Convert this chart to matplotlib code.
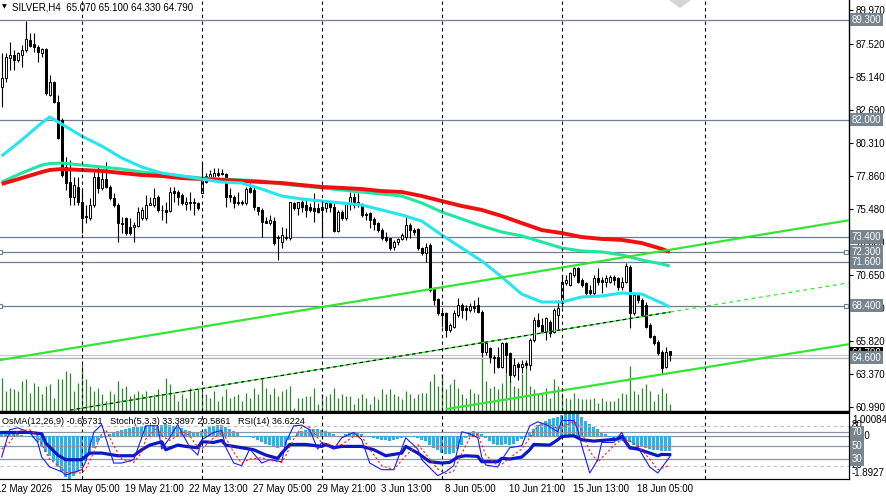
import matplotlib
matplotlib.use("Agg")
import matplotlib.pyplot as plt
import matplotlib.transforms as mtrans
from matplotlib.patches import Polygon

plt.rcParams['font.family'] = ['Liberation Sans', 'DejaVu Sans']
plt.rcParams['font.size'] = 7

# --- SILVER H4 candles (12 May 17:00 .. 19 Jun 13:00) ---
opens = [84.38, 85.03, 86.50, 86.71, 86.35, 86.71, 87.08, 87.81, 87.52, 87.30,
         86.86, 87.15, 83.79, 84.74, 83.28, 81.96, 78.53, 77.43, 76.34, 77.07,
         75.97, 74.95, 74.80, 75.75, 77.80, 76.99, 77.65, 77.07, 76.26, 75.75,
         74.43, 74.80, 74.14, 74.14, 74.22, 74.80, 74.80, 75.75, 75.75, 76.34,
         75.42, 75.39, 75.31, 76.77, 76.70, 76.48, 75.82, 75.97, 75.97, 75.90,
         76.63, 77.87, 77.80, 77.80, 78.09, 78.02, 78.02, 76.48, 76.34, 75.97,
         75.97, 75.90, 76.99, 76.85, 75.60, 75.39, 74.58, 74.43, 74.58, 73.41,
         73.05, 73.34, 73.34, 75.90, 75.53, 75.97, 75.75, 75.60, 75.53, 75.53,
         75.39, 75.53, 75.90, 75.60, 73.85, 75.24, 74.80, 75.90, 76.34, 75.75,
         75.75, 75.09, 75.17, 74.73, 74.43, 73.92, 73.41, 73.34, 72.68, 73.05,
         73.27, 73.41, 74.29, 73.92, 74.00, 72.61, 72.24, 72.83, 69.68, 68.88,
         67.85, 67.85, 66.61, 66.83, 67.71, 68.44, 68.22, 68.08, 68.37, 68.44,
         67.93, 65.01, 65.30, 64.64, 64.64, 63.91, 65.66, 64.93, 63.32, 64.13,
         63.91, 64.20, 64.05, 65.88, 67.34, 66.98, 66.47, 67.20, 66.47, 67.71,
         68.59, 70.05, 69.90, 70.63, 71.15, 70.27, 70.05, 69.54, 69.32, 70.41,
         70.27, 70.12, 70.12, 70.49, 70.41, 69.76, 70.12, 71.22, 67.85, 69.17,
         68.81, 68.44, 66.98, 66.17, 65.74, 65.01, 63.91, 65.07]
highs = [86.86, 86.86, 87.67, 87.08, 86.94, 87.45, 89.20, 88.32, 88.32, 87.45,
         87.23, 87.23, 85.25, 84.81, 83.79, 82.11, 79.26, 79.04, 77.80, 77.80,
         76.85, 75.75, 76.26, 78.17, 78.53, 78.17, 78.89, 77.21, 76.63, 75.90,
         74.87, 74.87, 74.80, 74.51, 75.60, 75.60, 76.48, 76.34, 76.99, 76.48,
         75.75, 75.97, 77.07, 77.07, 76.85, 76.63, 76.34, 76.70, 76.26, 75.97,
         78.89, 78.09, 78.31, 78.46, 78.46, 78.38, 78.09, 76.99, 76.48, 76.70,
         76.12, 77.07, 77.36, 77.07, 75.60, 75.53, 74.87, 75.02, 74.87, 73.56,
         74.14, 74.07, 75.97, 75.97, 75.97, 76.12, 76.12, 75.90, 76.63, 75.90,
         75.97, 75.97, 75.97, 75.90, 75.39, 75.39, 75.97, 76.70, 76.63, 76.63,
         75.90, 75.24, 75.24, 74.87, 74.51, 74.07, 73.78, 73.34, 73.20, 73.34,
         73.70, 74.87, 74.43, 74.07, 74.07, 72.68, 72.97, 72.97, 69.76, 68.95,
         68.08, 67.93, 67.13, 68.08, 68.95, 68.59, 68.44, 68.59, 68.81, 69.03,
         68.08, 65.74, 65.37, 64.79, 65.37, 65.74, 65.74, 65.01, 64.57, 64.27,
         64.42, 64.42, 66.03, 67.56, 67.85, 67.49, 67.56, 67.34, 68.22, 68.81,
         70.63, 70.63, 70.85, 71.22, 71.22, 70.41, 70.12, 69.90, 70.63, 71.15,
         70.49, 70.63, 70.63, 70.63, 70.49, 70.49, 71.51, 71.36, 69.32, 69.32,
         68.95, 68.66, 67.13, 66.25, 65.88, 65.15, 65.37, 65.10]
lows = [82.91, 84.74, 85.62, 85.62, 86.20, 85.84, 86.94, 87.30, 86.94, 86.20,
        86.57, 83.79, 83.71, 83.21, 80.58, 77.80, 76.85, 75.75, 75.75, 75.75,
        73.70, 74.43, 74.65, 75.60, 76.63, 76.85, 76.99, 76.12, 75.60, 73.05,
        73.70, 73.56, 73.56, 73.05, 74.14, 74.65, 74.65, 75.75, 75.60, 75.24,
        74.65, 74.43, 75.24, 75.97, 75.75, 75.75, 75.39, 75.39, 75.02, 75.39,
        76.63, 77.36, 77.58, 77.72, 77.80, 77.94, 75.60, 75.97, 75.53, 75.75,
        75.75, 75.75, 76.63, 75.39, 75.02, 73.41, 74.43, 74.29, 72.83, 71.73,
        72.61, 73.20, 73.20, 75.39, 75.02, 75.24, 74.87, 75.24, 74.51, 75.17,
        73.41, 75.24, 75.24, 73.78, 73.78, 74.65, 74.65, 75.39, 75.53, 75.60,
        74.87, 74.65, 74.07, 73.92, 73.78, 73.20, 73.05, 72.46, 72.46, 72.83,
        73.20, 73.20, 73.34, 73.56, 72.46, 72.10, 71.58, 69.39, 68.43, 67.71,
        66.83, 66.10, 66.47, 66.76, 67.56, 67.49, 67.34, 67.93, 67.93, 67.85,
        64.64, 64.79, 64.20, 63.47, 63.84, 63.84, 63.47, 62.81, 63.18, 62.96,
        63.47, 63.84, 63.69, 65.74, 66.83, 66.39, 65.88, 66.10, 66.39, 66.61,
        68.30, 69.90, 69.83, 70.49, 70.05, 69.76, 69.17, 69.03, 69.17, 69.90,
        69.32, 69.76, 70.05, 69.90, 69.54, 69.54, 70.05, 66.76, 67.71, 68.59,
        67.71, 66.76, 66.03, 65.52, 64.79, 63.47, 63.84, 64.33]
closes = [85.03, 86.57, 86.71, 86.35, 86.86, 87.08, 87.89, 87.37, 87.30, 86.94,
          87.15, 83.94, 84.74, 83.28, 80.65, 77.94, 77.36, 76.34, 77.21, 75.97,
          74.80, 74.87, 75.75, 77.80, 76.99, 77.65, 77.07, 76.26, 75.75, 74.43,
          74.36, 73.70, 73.70, 74.29, 75.24, 75.39, 75.75, 75.90, 76.26, 75.39,
          75.37, 75.24, 76.70, 76.63, 76.34, 75.90, 75.97, 75.90, 75.90, 75.53,
          77.80, 77.43, 78.02, 78.09, 77.94, 78.09, 76.34, 76.34, 75.90, 75.90,
          75.90, 76.92, 76.70, 75.60, 75.31, 74.51, 74.43, 74.65, 72.97, 73.34,
          73.56, 73.41, 75.97, 75.53, 75.97, 75.60, 75.39, 75.39, 75.31, 75.24,
          75.60, 75.90, 75.60, 73.85, 75.24, 74.80, 75.90, 76.34, 75.75, 75.97,
          75.02, 75.02, 74.65, 74.36, 73.92, 73.34, 73.20, 72.61, 73.05, 73.27,
          73.56, 74.29, 73.92, 73.78, 72.61, 72.24, 72.68, 69.54, 68.81, 67.85,
          67.71, 66.61, 66.98, 67.85, 68.44, 68.08, 68.08, 68.37, 68.22, 67.93,
          65.01, 65.66, 64.64, 64.57, 63.91, 65.66, 64.79, 63.32, 64.05, 63.91,
          64.13, 64.05, 65.88, 67.34, 66.90, 66.47, 67.49, 66.39, 68.08, 68.22,
          70.12, 70.27, 70.78, 71.15, 70.12, 69.90, 69.32, 69.32, 70.41, 70.12,
          70.12, 70.41, 70.49, 70.27, 69.76, 70.12, 71.29, 67.85, 69.17, 68.81,
          67.71, 66.83, 66.10, 65.66, 64.93, 63.84, 65.01, 64.79]
volumes = [3300, 2000, 2300, 2200, 2000, 3000, 3200, 1800, 2800, 2500,
           1700, 2500, 2700, 1300, 3200, 3200, 4000, 3800, 2000, 2800,
           4700, 3200, 2500, 2000, 2300, 1700, 1000, 2000, 1700, 3000,
           2300, 2500, 1500, 1700, 2000, 1700, 2000, 1300, 1700, 2200,
           1700, 3300, 2700, 1700, 1000, 1700, 1300, 2300, 2000, 2200,
           2200, 1700, 1300, 2000, 1000, 1500, 2200, 1300, 1500, 1700,
           1000, 1800, 1300, 2300, 1700, 3300, 2300, 1700, 2300, 1500,
           2000, 2200, 2500, 300, 1300, 1300, 1500, 1500, 2300, 700,
           1700, 1500, 1700, 2300, 1300, 1700, 1500, 1500, 700, 1300,
           1700, 1300, 700, 1500, 1200, 2200, 1700, 2200, 1700, 1500,
           1200, 2000, 1700, 1300, 1700, 1800, 1800, 3000, 3700, 2500,
           3700, 2200, 2700, 3200, 2300, 1700, 1300, 2200, 1800, 1700,
           5300, 3000, 2300, 2500, 2200, 2800, 3800, 3000, 2500, 2300,
           3700, 5000, 2500, 2200, 1700, 1700, 2300, 1300, 3200, 2500,
           1800, 1300, 1200, 1800, 1300, 1200, 1200, 1200, 1300, 800,
           1300, 1000, 1000, 1000, 1300, 1800, 1700, 4500, 2000, 1700,
           2300, 2700, 2000, 1000, 1700, 2300, 1800, 700]

# moving averages read at these bar indices
ma_idx = [0, 5, 10, 12, 15, 20, 25, 30, 35, 40, 45, 50, 55, 60, 65, 70, 75, 80,
          85, 90, 95, 100, 105, 110, 115, 120, 125, 130, 135, 140, 145, 150,
          155, 160, 165, 167]
ma_fast = [79.33, 80.50, 81.75, 82.18, 81.67, 80.79, 80.06, 79.19, 78.53, 78.09,
           77.87, 77.65, 77.43, 77.36, 76.92, 76.41, 76.19, 76.04, 75.90, 75.75,
           75.39, 75.02, 74.58, 73.56, 72.61, 71.66, 70.49, 69.24, 68.66, 68.66,
           69.03, 69.10, 69.32, 69.24, 68.59, 68.30]
ma_mid = [77.43, 78.09, 78.67, 78.78, 78.82, 78.67, 78.53, 78.38, 78.16, 78.02,
          77.87, 77.72, 77.65, 77.58, 77.51, 77.29, 77.14, 77.00, 76.85, 76.70,
          76.55, 76.41, 75.90, 75.24, 74.73, 74.22, 73.78, 73.49, 73.05, 72.61,
          72.39, 72.32, 72.10, 71.73, 71.44, 71.29]
ma_slow = [77.29, 77.72, 78.16, 78.31, 78.38, 78.31, 78.24, 78.09, 77.94, 77.87,
           77.72, 77.65, 77.58, 77.51, 77.43, 77.36, 77.21, 77.07, 77.00, 76.92,
           76.77, 76.70, 76.41, 76.04, 75.68, 75.39, 74.95, 74.43, 73.92, 73.70,
           73.41, 73.27, 73.20, 72.97, 72.54, 72.32]

# trend channel anchors (bar index, price)
chan_upper = ([-0.4, 212.1], [64.42, 74.65])
chan_mid = ([17.1, 167.1], [60.76, 67.93])
chan_mid_ext = ([167.1, 212.1], [67.93, 70.08])
chan_lower = ([111.3, 212.1], [60.84, 65.59])

levels = [89.30, 82.00, 73.40, 72.30, 71.60, 68.40]
support = 64.60
price_ticks = [89.97, 87.52, 85.14, 82.69, 80.31, 77.86, 75.48, 73.03, 70.65,
               68.20, 65.82, 63.37, 60.99]
separators = [20, 50, 80, 110, 140, 175.8]
time_labels = ['12 May 2026', '15 May 05:00', '19 May 21:00', '22 May 13:00',
               '27 May 05:00', '29 May 21:00', '3 Jun 13:00', '8 Jun 05:00',
               '10 Jun 21:00', '15 Jun 13:00', '18 Jun 05:00']
time_bars = [0, 15, 31, 47, 63, 79, 95, 111, 127, 143, 159]

# oscillators
osma = [0.08, 0.1, 0.1, 0.08, 0.05, 0.02, -0.02, -0.06, -0.1, -0.3,
        -0.45, -0.7, -0.9, -1.1, -1.35, -1.6, -1.8, -1.89, -1.75, -1.6,
        -1.4, -1.1, -0.85, -0.55, -0.3, -0.12, -0.02, 0.08, 0.15, 0.2,
        0.25, 0.3, 0.33, 0.35, 0.38, 0.4, 0.42, 0.45, 0.45, 0.43,
        0.45, 0.48, 0.45, 0.42, 0.38, 0.32, 0.25, 0.18, 0.12, 0.1,
        0.2, 0.3, 0.38, 0.42, 0.45, 0.45, 0.38, 0.3, 0.2, 0.1,
        0.0, -0.05, -0.08, -0.12, -0.18, -0.28, -0.35, -0.4, -0.5, -0.55,
        -0.5, -0.4, -0.2, 0.0, 0.12, 0.2, 0.26, 0.3, 0.3, 0.28,
        0.25, 0.2, 0.15, 0.05, 0.0, -0.02, 0.05, 0.12, 0.15, 0.12,
        0.05, 0.0, -0.05, -0.1, -0.15, -0.18, -0.2, -0.22, -0.2, -0.17,
        -0.12, -0.05, -0.03, -0.05, -0.12, -0.2, -0.25, -0.4, -0.55, -0.65,
        -0.75, -0.8, -0.82, -0.75, -0.6, -0.4, -0.1, 0.1, 0.18, 0.15,
        0.05, -0.1, -0.25, -0.35, -0.42, -0.4, -0.38, -0.4, -0.35, -0.25,
        -0.15, -0.08, 0.1, 0.3, 0.45, 0.55, 0.65, 0.72, 0.78, 0.82,
        0.9, 0.95, 0.98, 1.0, 0.92, 0.8, 0.65, 0.5, 0.38, 0.28,
        0.15, 0.05, -0.05, -0.12, -0.2, -0.25, -0.22, -0.3, -0.4, -0.45,
        -0.5, -0.55, -0.6, -0.62, -0.65, -0.67, -0.68, -0.667]
osma_max, osma_min = 1.00084, -1.8927

rsi_idx = [0, 7, 10, 11, 14, 16, 20, 22, 25, 29, 33, 35, 37, 40, 41, 44, 46, 49,
           50, 53, 55, 56, 60, 63, 66, 69, 70, 72, 76, 80, 81, 83, 85, 90, 93,
           96, 100, 101, 104, 107, 110, 112, 114, 116, 119, 120, 124, 125, 127,
           130, 132, 133, 137, 139, 140, 143, 145, 148, 150, 154, 155, 157, 159,
           162, 164, 165, 167]
rsi_vals = [70, 70, 68, 54, 36, 29, 29, 39, 39, 35, 35, 44, 51, 56, 44, 51, 49, 47,
            56, 55, 58, 51, 47, 44, 36, 31, 39, 52, 52, 49, 52, 47, 49, 49, 44,
            35, 39, 49, 39, 26, 24, 25, 33, 35, 34, 26, 26, 31, 30,
            33, 44, 52, 51, 59, 64, 65, 59, 57, 58, 60, 64, 47, 45,
            39, 35, 37, 36.6]

stoch_idx = [0, 2, 4, 7, 9, 10, 12, 15, 16, 20, 21, 23, 25, 26, 28, 30, 33, 35,
             36, 39, 40, 42, 44, 45, 47, 49, 50, 53, 55, 56, 58, 60, 62, 65, 67,
             70, 71, 73, 75, 77, 79, 80, 83, 85, 88, 90, 92, 95, 98, 101, 104,
             105, 109, 111, 113, 115, 117, 119, 120, 121, 124, 125, 127, 130,
             132, 134, 136, 139, 140, 143, 144, 145, 147, 149, 150, 153, 155,
             157, 159, 162, 164, 167]
stoch_main = [33, 74, 77, 70, 55, 33, 18, 11, 6, 14, 26, 70, 82, 62, 24, 24, 29, 62,
              80, 80, 45, 62, 82, 70, 48, 36, 59, 70, 73, 48, 24, 20, 45, 24, 29,
              26, 55, 80, 81, 74, 45, 55, 45, 62, 70, 59, 24, 14, 14, 62, 45,
              29, 5, 11, 20, 71, 68, 62, 33, 21, 18, 29, 47, 50,
              80, 86, 82, 71, 88, 88, 74, 50, 9, 29, 55, 55, 70,
              45, 48, 18, 9, 33.4]
stoch_signal = [45, 55, 72, 74, 65, 52, 30, 16, 10, 9, 15, 40, 68, 74, 50, 30, 25, 40,
                60, 78, 65, 58, 65, 72, 65, 48, 45, 62, 70, 62, 40, 24, 30, 32, 28,
                25, 35, 60, 78, 78, 62, 55, 50, 52, 64, 64, 45, 20, 14, 35, 52,
                45, 15, 8, 12, 38, 62, 67, 52, 36, 20, 22, 32, 45,
                62, 80, 84, 76, 78, 86, 84, 70, 42, 25, 32, 50, 60,
                57, 50, 30, 14, 20.6]

W, H = 886, 498


def fx(px):
    return px / W


def fy(py):
    return 1 - py / H


fig = plt.figure(figsize=(W / 100, H / 100), dpi=100)
ax = fig.add_axes([0, fy(410.5), fx(849), 410.5 / H])
axl = fig.add_axes([0, fy(479), fx(849), 66.5 / H])

n = len(closes)
idx = list(range(n))
xlim = (-0.425, 211.8)

# volumes at the bottom of the price window
vol_top = 41050
ax.vlines(idx, 0, [v / vol_top for v in volumes], transform=ax.get_xaxis_transform(),
          color='#2a8a2a', lw=0.9, zorder=1)

# horizontal levels
bt = mtrans.blended_transform_factory(ax.transAxes, ax.transData)
for lv in levels:
    ax.axhline(lv, color='#6f7f91', lw=0.9, zorder=2)
ax.axhline(support, color='#a9b0b8', lw=0.9, zorder=2)
ax.axhline(closes[-1], color='#c8c8c8', lw=0.8, zorder=2)
for lv in (72.30, 68.40):
    ax.plot([0.0, 0.997], [lv, lv], transform=bt, ls='none', marker='s', ms=3.2,
            mfc='white', mec='#6f7f91', mew=0.8, clip_on=False, zorder=11)

# candles
ax.vlines(idx, lows, highs, color='black', lw=0.8, zorder=3)
bottoms = [min(o, c) for o, c in zip(opens, closes)]
heights = [max(abs(c - o), 0.03) for o, c in zip(opens, closes)]
colors = ['white' if c >= o else 'black' for o, c in zip(opens, closes)]
ax.bar(idx, heights, bottom=bottoms, width=0.55, color=colors, edgecolor='black',
       linewidth=0.7, zorder=4)

# moving averages
ax.plot(ma_idx, ma_mid, color='#1fe6a0', lw=2.2, zorder=5, solid_capstyle='butt')
ax.plot(ma_idx, ma_slow, color='#f01010', lw=2.8, zorder=5, solid_capstyle='butt')
ax.plot(ma_idx, ma_fast, color='#25e6f0', lw=2.2, zorder=5, solid_capstyle='butt')

# channel
ax.plot(*chan_upper, color='#33e633', lw=1.6, zorder=6)
ax.plot(*chan_lower, color='#33e633', lw=1.6, zorder=6)
ax.plot(*chan_mid, color='#33e633', lw=0.9, zorder=6)
ax.plot(*chan_mid, color='black', lw=0.8, ls=(0, (3, 3)), zorder=6)
ax.plot(*chan_mid_ext, color='#33e633', lw=0.9, ls=(0, (3, 3)), zorder=6)

for b in separators:
    ax.axvline(b, color='black', lw=0.8, ls=(0, (3, 3)), zorder=7)
    axl.axvline(b, color='black', lw=0.8, ls=(0, (3, 3)), zorder=7)

ax.set_xlim(*xlim)
ax.set_ylim(60.73, 90.736)
ax.yaxis.tick_right()
ax.set_yticks(price_ticks)
ax.set_yticklabels([f"{p:.3f}" for p in price_ticks])
ax.tick_params(axis='y', length=3, width=0.8, pad=2, labelsize=7)
ax.set_xticks([])
for s in ('left', 'top'):
    ax.spines[s].set_visible(False)
ax.spines['right'].set_linewidth(1)
ax.spines['bottom'].set_linewidth(1)

# price boxes on the axis
box = dict(boxstyle='square,pad=0.18', fc='#78858f', ec='none')
ax.text(1.003, closes[-1] + 0.12, f"{closes[-1]:.3f}", transform=bt, va='center',
        ha='left', color='white', fontsize=7, clip_on=False, zorder=9,
        bbox=dict(boxstyle='square,pad=0.18', fc='black', ec='none'))
for lv in levels + [support]:
    ax.text(1.003, lv, f"{lv:.3f}", transform=bt, va='center', ha='left',
            color='white', fontsize=7, bbox=box, clip_on=False, zorder=10)

# title
fig.text(fx(2), fy(7), "\u25BC", fontsize=4.5, va='center', ha='left',
         family='DejaVu Sans')
fig.text(fx(12), fy(7), "SILVER,H4  65.070 65.100 64.330 64.790", fontsize=7,
         va='center', ha='left')
fig.patches.append(Polygon([(fx(669), 1.0), (fx(691), 1.0), (fx(680), fy(8))],
                           closed=True, transform=fig.transFigure,
                           fc='#d4d4d4', ec='none'))

# lower window: OsMA + Stoch + RSI
axl.bar(idx, osma, width=0.75, color='#22b5f0', zorder=2)
axl.axhline(0, color='#8a96a3', lw=0.9, zorder=1)
axl.set_xlim(*xlim)
axl.set_ylim(osma_min, osma_max)
axl.set_xticks([])
axl.set_yticks([])
axl.spines['left'].set_visible(False)

axs = axl.twinx()
axs.set_xlim(*xlim)
axs.set_ylim(0, 100)
for lv in (80, 20):
    axs.axhline(lv, color='#bdbdbd', lw=0.8, ls=(0, (3, 3)), zorder=1)
for lv in (70, 50, 30):
    axs.axhline(lv, color='#8a96a3', lw=0.9, zorder=1)
axs.plot(rsi_idx, rsi_vals, color='#0c18c4', lw=2.3, zorder=3)
axs.plot(stoch_idx, stoch_main, color='#1a1aff', lw=0.8, zorder=4)
axs.plot(stoch_idx, stoch_signal, color='#ff1a1a', lw=0.8, ls=(0, (2, 2)), zorder=4)
axs.set_yticks([])
axs.set_xticks([])
axs.spines['left'].set_visible(False)

bts = mtrans.blended_transform_factory(axs.transAxes, axs.transData)
axs.text(1.003, 80.5, "80", transform=bts, va='center', ha='left', fontsize=7,
         clip_on=False)
axs.text(1.003, 20.5, "20", transform=bts, va='center', ha='left', fontsize=7,
         clip_on=False)
btl = mtrans.blended_transform_factory(axl.transAxes, axl.transData)
axl.text(1.003, -0.02, "0.00", transform=btl, va='center', ha='left', fontsize=7,
         clip_on=False)
fig.text(fx(852), fy(420), f"{osma_max:.5f}", fontsize=7, va='center', ha='left')
fig.text(fx(852), fy(472.5), f"{osma_min:.4f}", fontsize=7, va='center', ha='left')
for lv in (70, 50, 30):
    axs.text(1.003, lv, str(lv), transform=bts, va='center', ha='left',
             color='white', fontsize=7, bbox=box, clip_on=False, zorder=10)

fig.text(fx(2), fy(421.5), "OsMA(12,26,9) -0.66731", fontsize=6.6, va='center')
fig.text(fx(110), fy(421.5), "Stoch(5,3,3) 33.3897 20.5861", fontsize=6.6,
         va='center')
fig.text(fx(238), fy(421.5), "RSI(14) 36.6224", fontsize=6.6, va='center')

# time axis
bx = mtrans.blended_transform_factory(axl.transData, fig.transFigure)
for lab, b in zip(time_labels, time_bars):
    xpos = b - 0.2 if b else -1.35
    fig.text(xpos, fy(488.5), lab, transform=bx, fontsize=7, va='center', ha='left')

fig.savefig("out.png", dpi=100)
